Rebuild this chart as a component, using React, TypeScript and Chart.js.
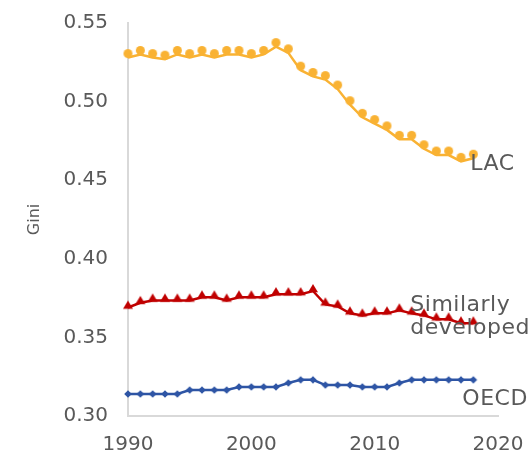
import React, { useEffect, useRef } from 'react';
import { Chart, registerables } from 'chart.js';

Chart.register(...registerables);

const years = [
  1990, 1991, 1992, 1993, 1994, 1995, 1996, 1997, 1998, 1999,
  2000, 2001, 2002, 2003, 2004, 2005, 2006, 2007, 2008, 2009,
  2010, 2011, 2012, 2013, 2014, 2015, 2016, 2017, 2018,
];

const lac = [
  0.528, 0.530, 0.528, 0.527, 0.530, 0.528, 0.530, 0.528, 0.530, 0.530,
  0.528, 0.530, 0.535, 0.531, 0.520, 0.516, 0.514, 0.508, 0.498, 0.490,
  0.486, 0.482, 0.476, 0.476, 0.470, 0.466, 0.466, 0.462, 0.464,
];

const similarlyDeveloped = [
  0.369, 0.372, 0.3735, 0.3735, 0.3735, 0.3735, 0.3755, 0.3755, 0.3735, 0.3755,
  0.3755, 0.3755, 0.3775, 0.3775, 0.3775, 0.3795, 0.371, 0.3697, 0.3653, 0.364,
  0.3653, 0.3653, 0.3672, 0.3653, 0.364, 0.3615, 0.3615, 0.359, 0.359,
];

const oecd = [
  0.314, 0.314, 0.314, 0.314, 0.314, 0.3165, 0.3165, 0.3165, 0.3165, 0.3185,
  0.3185, 0.3185, 0.3185, 0.321, 0.323, 0.323, 0.3197, 0.3197, 0.3197, 0.3185,
  0.3185, 0.3185, 0.321, 0.323, 0.323, 0.323, 0.323, 0.323, 0.323,
];

const xTicks = [1990, 2000, 2010, 2020];
const yTicks = [0.3, 0.35, 0.4, 0.45, 0.5, 0.55];
const seriesNames = ['LAC', 'Similarly developed', 'OECD'];
const labelLines = [['LAC'], ['Similarly', 'developed'], ['OECD']];
const yTitle = 'Gini';

const COLORS = ['#F9B233', '#C00000', '#2E55A5'];
const TEXT = '#595959';
const AXIS = '#D9D9D9';
const FONT = "'DejaVu Sans', sans-serif";

function makeMarker(shape: string, color: string, r: number, lift: number) {
  const c = document.createElement('canvas');
  const w = Math.ceil(2 * r + 2);
  const h = Math.ceil(2 * (r + lift) + 2);
  c.width = w;
  c.height = h;
  const ctx = c.getContext('2d')!;
  ctx.fillStyle = color;
  const cx = w / 2;
  const cy = h / 2 - lift;
  ctx.beginPath();
  if (shape === 'circle') {
    ctx.arc(cx, cy, r, 0, Math.PI * 2);
  } else if (shape === 'triangle') {
    ctx.moveTo(cx, cy - r);
    ctx.lineTo(cx + r, cy + r * 0.65);
    ctx.lineTo(cx - r, cy + r * 0.65);
    ctx.closePath();
  } else {
    ctx.moveTo(cx, cy - r);
    ctx.lineTo(cx + r, cy);
    ctx.lineTo(cx, cy + r);
    ctx.lineTo(cx - r, cy);
    ctx.closePath();
  }
  ctx.fill();
  return c;
}

const labelOffsets = [
  { dx: -3, dys: [12] },
  { dx: -63, dys: [-12, 11] },
  { dx: -11, dys: [25] },
];

const seriesLabelPlugin = {
  id: 'seriesLabels',
  afterDatasetsDraw(chart: any) {
    const ctx = chart.ctx;
    ctx.save();
    ctx.font = `22px ${FONT}`;
    ctx.fillStyle = TEXT;
    ctx.textAlign = 'left';
    ctx.textBaseline = 'alphabetic';
    try { (ctx as any).letterSpacing = '0.5px'; } catch (e) { /* ignore */ }
    chart.data.datasets.forEach((_: any, i: number) => {
      const meta = chart.getDatasetMeta(i);
      const pt = meta.data[meta.data.length - 1];
      if (!pt) return;
      const off = labelOffsets[i];
      labelLines[i].forEach((line, j) => {
        ctx.fillText(line, pt.x + off.dx, pt.y + off.dys[j]);
      });
    });
    ctx.restore();
  },
};

export default function App() {
  const ref = useRef<HTMLCanvasElement | null>(null);

  useEffect(() => {
    if (!ref.current) return;
    const markers = [
      makeMarker('circle', COLORS[0], 4.5, 4),
      makeMarker('triangle', COLORS[1], 5, 2),
      makeMarker('diamond', COLORS[2], 3.8, 0),
    ];
    const series = [lac, similarlyDeveloped, oecd];
    const chart = new Chart(ref.current, {
      type: 'line',
      data: {
        datasets: series.map((vals, i) => ({
          label: seriesNames[i],
          data: years.map((y, k) => ({ x: y, y: vals[k] })),
          borderColor: COLORS[i],
          backgroundColor: COLORS[i],
          borderWidth: 2.5,
          pointStyle: markers[i] as any,
          pointRadius: 4,
          tension: 0,
          clip: false as any,
        })),
      },
      options: {
        animation: false,
        responsive: true,
        maintainAspectRatio: false,
        events: [],
        layout: { padding: { top: 23, right: 33, bottom: 0, left: 0 } },
        plugins: {
          legend: { display: false },
          tooltip: { enabled: false },
        },
        scales: {
          x: {
            type: 'linear',
            min: 1990,
            max: 2020,
            afterBuildTicks: (s: any) => {
              s.ticks = xTicks.map((v) => ({ value: v }));
            },
            afterFit: (s: any) => {
              s.height = 38;
              s.paddingLeft = 0;
              s.paddingRight = 0;
            },
            grid: { display: false, drawTicks: false },
            border: { display: true, color: AXIS, width: 2 },
            ticks: {
              color: TEXT,
              font: { family: FONT, size: 20 },
              padding: 17,
              maxRotation: 0,
              callback: (v: any) => String(v),
            },
          },
          y: {
            type: 'linear',
            min: 0.3,
            max: 0.55,
            afterBuildTicks: (s: any) => {
              s.ticks = yTicks.map((v) => ({ value: v }));
            },
            afterFit: (s: any) => {
              s.width = 128;
              s.paddingTop = 0;
              s.paddingBottom = 0;
            },
            grid: { display: false, drawTicks: false },
            border: { display: true, color: AXIS, width: 2 },
            title: {
              display: true,
              text: yTitle,
              color: TEXT,
              font: { family: FONT, size: 16 },
              padding: { top: 25, bottom: 0 },
            },
            ticks: {
              color: TEXT,
              font: { family: FONT, size: 20 },
              padding: 20,
              callback: (v: any) => Number(v).toFixed(2),
            },
          },
        },
      },
      plugins: [seriesLabelPlugin],
    });
    return () => chart.destroy();
  }, []);

  return (
    <div style={{ position: 'fixed', left: 0, top: 0, width: 531, height: 454, background: '#fff' }}>
      <canvas ref={ref} />
    </div>
  );
}
